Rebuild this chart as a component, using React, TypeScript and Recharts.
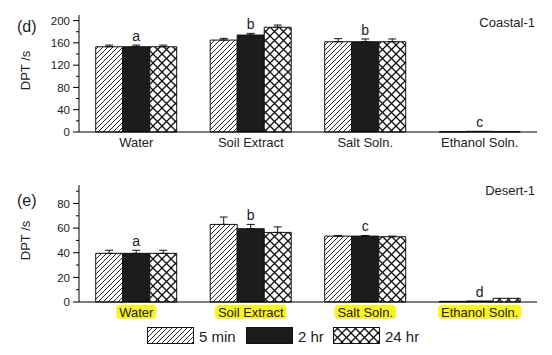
import React from 'react';
import { ComposedChart, Bar, Line, XAxis, YAxis, ErrorBar, LabelList } from 'recharts';

const FONT = "'Liberation Sans', Arial, sans-serif";

const categories = ['Water', 'Soil Extract', 'Salt Soln.', 'Ethanol Soln.'];
const seriesNames = ['5 min', '2 hr', '24 hr'];

// Panel (d) Coastal-1
const coastal5min = [153, 165, 162, 0.5];
const coastal2hr = [153, 174, 162, 1.2];
const coastal24hr = [153, 188, 162, 0.5];
const coastal5minErr = [3, 3, 5.5, 0];
const coastal2hrErr = [3, 3, 5, 0];
const coastal24hrErr = [3, 4, 5, 0];
const coastalLetters = ['a', 'b', 'b', 'c'];
const coastalTicks = [0, 20, 40, 60, 80, 100, 120, 140, 160, 180, 200];

// Panel (e) Desert-1
const desert5min = [39.5, 63, 53.5, 0.5];
const desert2hr = [39.5, 59.5, 53.5, 0.8];
const desert24hr = [39.5, 56.5, 53, 3];
const desert5minErr = [2.5, 6, 0.5, 0];
const desert2hrErr = [2.5, 3.5, 0.5, 0];
const desert24hrErr = [2.5, 4.5, 0.5, 0];
const desertLetters = ['a', 'b', 'c', 'd'];
const desertTicks = [0, 10, 20, 30, 40, 50, 60, 70, 80, 90];

function buildRows(m5: number[], h2: number[], h24: number[], e5: number[], e2: number[], e24: number[], letters: string[]) {
  return categories.map((c, i) => ({
    cat: c,
    m5: m5[i],
    h2: h2[i],
    h24: h24[i],
    e5: e5[i] > 0 ? [0, e5[i]] : null,
    e2: e2[i] > 0 ? [0, e2[i]] : null,
    e24: e24[i] > 0 ? [0, e24[i]] : null,
    letterPos: h2[i] + e2[i],
    letter: letters[i],
  }));
}

const coastalRows = buildRows(coastal5min, coastal2hr, coastal24hr, coastal5minErr, coastal2hrErr, coastal24hrErr, coastalLetters);
const desertRows = buildRows(desert5min, desert2hr, desert24hr, desert5minErr, desert2hrErr, desert24hrErr, desertLetters);

let ctx: CanvasRenderingContext2D | null = null;
function measure(text: string, font: string) {
  if (!ctx) ctx = document.createElement('canvas').getContext('2d');
  if (!ctx) return text.length * 7;
  ctx.font = font;
  return ctx.measureText(text).width;
}

function Patterns({ prefix }: { prefix: string }) {
  return (
    <defs>
      <pattern id={prefix + 'hatch'} patternUnits="userSpaceOnUse" width={5} height={5}>
        <rect width={5} height={5} fill="#fff" />
        <path d="M0,5 L5,0 M-1,1 L1,-1 M4,6 L6,4" stroke="#111" strokeWidth={0.9} />
      </pattern>
      <pattern id={prefix + 'cross'} patternUnits="userSpaceOnUse" width={9} height={9}>
        <rect width={9} height={9} fill="#fff" />
        <path d="M0,0 L9,9 M9,0 L0,9" stroke="#111" strokeWidth={1.3} />
      </pattern>
    </defs>
  );
}

function YTick(props: any) {
  const { x, y, payload, major } = props;
  const isMajor = payload.value % major === 0;
  return (
    <g>
      <line x1={x - (isMajor ? 6 : 3)} x2={x} y1={y} y2={y} stroke="#000" strokeWidth={1} />
      {isMajor && (
        <text x={x - 9} y={y} dy="0.36em" textAnchor="end" fontSize={11.5} fontFamily={FONT} fill="#222">
          {payload.value}
        </text>
      )}
    </g>
  );
}

function XTick(props: any) {
  const { x, y, payload, highlight, off } = props;
  const fs = 13;
  const w = measure(payload.value, `${fs}px ${FONT}`);
  const by = y + off;
  return (
    <g>
      {highlight && (
        <rect x={x - w / 2 - 3} y={by - 11.5} width={w + 6} height={14} rx={4} fill="#fbf31f" />
      )}
      <text x={x} y={by} textAnchor="middle" fontSize={fs} fontFamily={FONT} fill="#222">
        {payload.value}
      </text>
    </g>
  );
}

function YLabel(props: any) {
  const vb = props.viewBox || {};
  const cx = 25;
  const cy = vb.y + vb.height / 2 - 3;
  return (
    <text
      x={cx}
      y={cy}
      transform={`rotate(-90 ${cx} ${cy})`}
      textAnchor="middle"
      dy="0.36em"
      fontSize={13}
      fontFamily={FONT}
      fill="#222"
    >
      DPT /s
    </text>
  );
}

function Panel({ rows, ticks, domainMax, major, prefix, height, marginTop, marginBottom, highlight, off }: any) {
  return (
    <ComposedChart
      width={552}
      height={height}
      data={rows}
      margin={{ top: marginTop, right: 15, left: 0, bottom: marginBottom }}
      barCategoryGap="14.6%"
      barGap={0}
    >
      <Patterns prefix={prefix} />
      <XAxis
        dataKey="cat"
        tickLine={false}
        tickSize={0}
        tickMargin={0}
        height={20}
        interval={0}
        axisLine={{ stroke: '#000', strokeWidth: 1 }}
        tick={(p: any) => <XTick {...p} highlight={highlight} off={off} />}
      />
      <YAxis
        type="number"
        width={79}
        domain={[0, domainMax]}
        ticks={ticks}
        interval={0}
        tickLine={false}
        tickSize={0}
        tickMargin={0}
        axisLine={{ stroke: '#000', strokeWidth: 1 }}
        tick={(p: any) => <YTick {...p} major={major} />}
        label={<YLabel />}
      />
      <Bar dataKey="m5" name={seriesNames[0]} fill={`url(#${prefix}hatch)`} stroke="#111" strokeWidth={1} isAnimationActive={false}>
        <ErrorBar dataKey="e5" width={4} stroke="#111" strokeWidth={1} />
      </Bar>
      <Bar dataKey="h2" name={seriesNames[1]} fill="#1c1c1c" stroke="#111" strokeWidth={1} isAnimationActive={false}>
        <ErrorBar dataKey="e2" width={4} stroke="#111" strokeWidth={1} />
      </Bar>
      <Bar dataKey="h24" name={seriesNames[2]} fill={`url(#${prefix}cross)`} stroke="#111" strokeWidth={1} isAnimationActive={false}>
        <ErrorBar dataKey="e24" width={4} stroke="#111" strokeWidth={1} />
      </Bar>
      <Line dataKey="letterPos" stroke="none" dot={false} activeDot={false} legendType="none" isAnimationActive={false}>
        <LabelList dataKey="letter" position="top" offset={4} fontSize={14} fontFamily={FONT} fill="#222" />
      </Line>
    </ComposedChart>
  );
}

export default function App() {
  return (
    <div style={{ position: 'absolute', left: 0, top: 0, width: 552, height: 355, background: '#fff', overflow: 'hidden' }}>
      <div style={{ position: 'absolute', left: 0, top: 0 }}>
        <Panel rows={coastalRows} ticks={coastalTicks} domainMax={210} major={40} prefix="c" height={160} marginTop={15} marginBottom={8} highlight={false} off={15} />
      </div>
      <div style={{ position: 'absolute', left: 0, top: 160 }}>
        <Panel rows={desertRows} ticks={desertTicks} domainMax={95} major={20} prefix="d" height={165} marginTop={25} marginBottom={3} highlight={true} off={14.5} />
      </div>
      <svg width={552} height={355} style={{ position: 'absolute', left: 0, top: 0, pointerEvents: 'none' }}>
        <Patterns prefix="lg" />
        <text x={17} y={32} fontSize={16} fontFamily={FONT} fill="#222">(d)</text>
        <text x={535} y={26.5} textAnchor="end" fontSize={13} fontFamily={FONT} fill="#222">Coastal-1</text>
        <text x={17} y={206} fontSize={16} fontFamily={FONT} fill="#222">(e)</text>
        <text x={535} y={195} textAnchor="end" fontSize={13} fontFamily={FONT} fill="#222">Desert-1</text>
        <rect x={147.5} y={327.5} width={46} height={16} fill="url(#lghatch)" stroke="#111" strokeWidth={1} />
        <text x={199} y={341.5} fontSize={15} fontFamily={FONT} fill="#222">{seriesNames[0]}</text>
        <rect x={246.5} y={327.5} width={46} height={16} fill="#1c1c1c" stroke="#111" strokeWidth={1} />
        <text x={298} y={341.5} fontSize={15} fontFamily={FONT} fill="#222">{seriesNames[1]}</text>
        <rect x={333.5} y={327.5} width={46} height={16} fill="url(#lgcross)" stroke="#111" strokeWidth={1} />
        <text x={385} y={341.5} fontSize={15} fontFamily={FONT} fill="#222">{seriesNames[2]}</text>
      </svg>
    </div>
  );
}
